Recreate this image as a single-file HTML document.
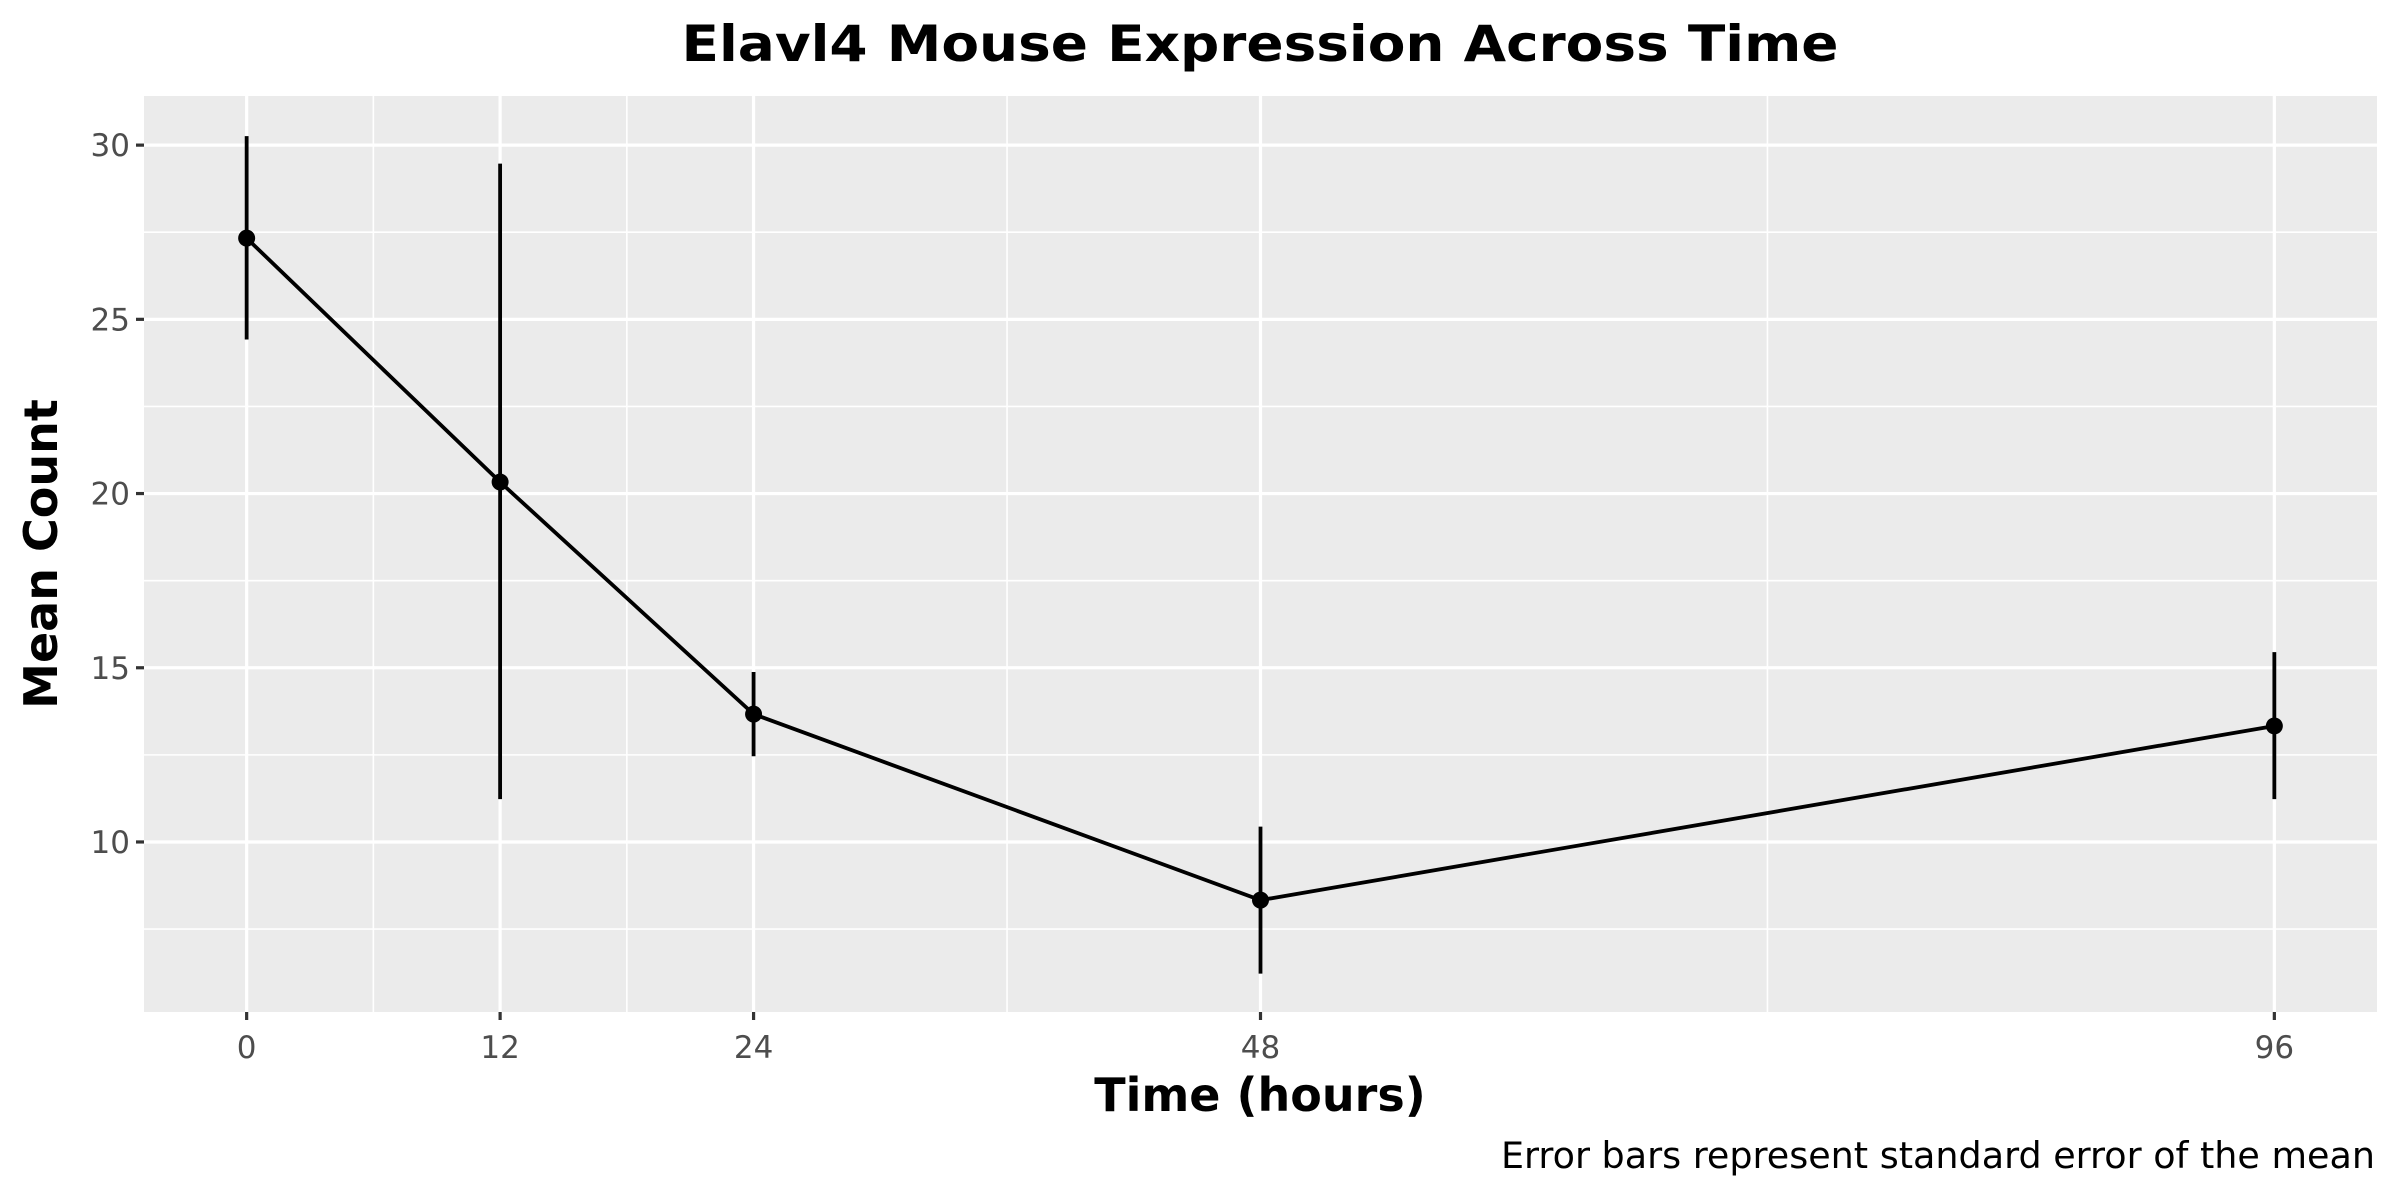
<!DOCTYPE html>
<html><head><meta charset="utf-8"><style>
html,body{margin:0;padding:0;background:#fff;}
svg{display:block;font-family:"DejaVu Sans","Liberation Sans",sans-serif;}
</style></head><body>
<svg id="chart" width="2400" height="1200" viewBox="0 0 2400 1200" xmlns="http://www.w3.org/2000/svg">
<rect x="0" y="0" width="2400" height="1200" fill="#fff"/>
<text x="1260" y="61" text-anchor="middle" font-size="50" font-weight="bold" fill="#000" textLength="1157" lengthAdjust="spacingAndGlyphs">Elavl4 Mouse Expression Across Time</text>
<rect x="144" y="96" width="2233" height="916" fill="#ebebeb"/>
<g id="grid"></g>
<g id="axes"></g>
<g id="marks"></g>
<text x="1260" y="1111" text-anchor="middle" font-size="46" font-weight="bold" fill="#000">Time (hours)</text>
<text transform="translate(57,554) rotate(-90)" text-anchor="middle" font-size="46" font-weight="bold" fill="#000">Mean Count</text>
<text x="2375" y="1168" text-anchor="end" font-size="36.5" fill="#000">Error bars represent standard error of the mean</text>
</svg>
<script>
const times = [0, 12, 24, 48, 96];
const means = [27.33, 20.33, 13.67, 8.33, 13.33];
const lowers = [24.42, 11.23, 12.46, 6.22, 11.23];
const uppers = [30.26, 29.47, 14.88, 10.44, 15.45];
const yTicks = [10, 15, 20, 25, 30];
const yMinor = [7.5, 12.5, 17.5, 22.5, 27.5];
const xMinor = [6, 18, 36, 72];

const NS = "http://www.w3.org/2000/svg";
const PL = 144, PR = 2377, PT = 96, PB = 1012;
const xMin = -4.86, xMax = 100.86, yMin = 5.12, yMax = 31.41;
function sx(v){ return PL + (v - xMin) / (xMax - xMin) * (PR - PL); }
function sy(v){ return PB - (v - yMin) / (yMax - yMin) * (PB - PT); }
function mk(tag, attrs, parent){
  const e = document.createElementNS(NS, tag);
  for (const k in attrs) e.setAttribute(k, attrs[k]);
  parent.appendChild(e); return e;
}
const grid = document.getElementById('grid');
const axes = document.getElementById('axes');
const marks = document.getElementById('marks');

yMinor.forEach(v => {
  const l = mk('line', {x1:PL, x2:PR, y1:sy(v), y2:sy(v), stroke:'#fff', 'stroke-width':1.6}, grid);
  
  
});
xMinor.forEach(v => {
  const l = mk('line', {x1:sx(v), x2:sx(v), y1:PT, y2:PB, stroke:'#fff', 'stroke-width':1.6}, grid);
  
  
});
yTicks.forEach(v => {
  const l = mk('line', {x1:PL, x2:PR, y1:sy(v), y2:sy(v), stroke:'#fff', 'stroke-width':3.2}, grid);
  
  
  const t = mk('line', {x1:PL-8, x2:PL, y1:sy(v), y2:sy(v), stroke:'#333', 'stroke-width':3.2}, axes);
  
  
  const tx = mk('text', {x:PL-14, y:sy(v)+11, 'text-anchor':'end', 'font-size':31, fill:'#4d4d4d'}, axes);
  tx.textContent = v;
  
  
});
times.forEach(v => {
  const l = mk('line', {x1:sx(v), x2:sx(v), y1:PT, y2:PB, stroke:'#fff', 'stroke-width':3.2}, grid);
  
  
  const t = mk('line', {x1:sx(v), x2:sx(v), y1:PB, y2:PB+8, stroke:'#333', 'stroke-width':3.2}, axes);
  
  
  const tx = mk('text', {x:sx(v), y:PB+46, 'text-anchor':'middle', 'font-size':31, fill:'#4d4d4d'}, axes);
  tx.textContent = v;
  
  
});
times.forEach((v, i) => {
  const e = mk('line', {x1:sx(v), x2:sx(v), y1:sy(lowers[i]), y2:sy(uppers[i]), stroke:'#000', 'stroke-width':3.8}, marks);
  
  
});
const path = mk('polyline', {points: times.map((v,i)=>sx(v)+','+sy(means[i])).join(' '), fill:'none', stroke:'#000', 'stroke-width':3.8}, marks);


times.forEach((v, i) => {
  const c = mk('circle', {cx:sx(v), cy:sy(means[i]), r:8.5, fill:'#000'}, marks);
  
  
});
</script>
</body></html>
